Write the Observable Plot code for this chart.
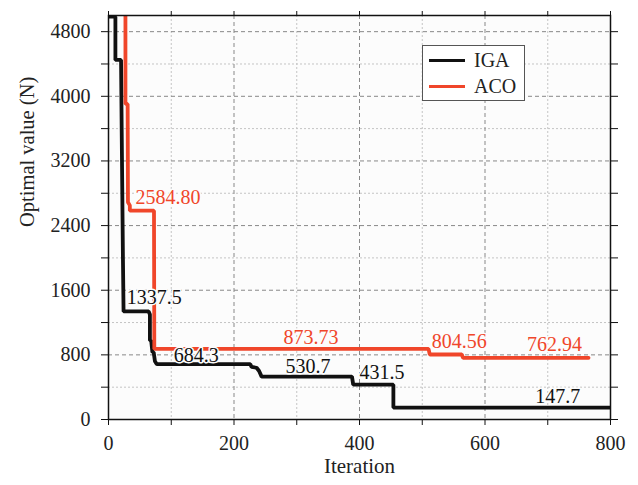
<!DOCTYPE html>
<html>
<head>
<meta charset="utf-8">
<script src="https://cdn.jsdelivr.net/npm/d3@7"></script>
<script src="https://cdn.jsdelivr.net/npm/@observablehq/plot@0.6"></script>
<style>
  html, body { margin: 0; padding: 0; background: #fff; }
  #wrap { position: relative; width: 638px; height: 485px; font-family: "Liberation Serif", serif; }
  #legend { position: absolute; left: 422px; top: 45px; width: 103px; height: 56px; border: 1px solid #555; background: #fff; box-sizing: border-box; }
  .item { position: absolute; left: 6px; display: flex; align-items: center; font-size: 20px; color: #222; }
  .sw { width: 36px; height: 0; border-top: 3px solid; margin-right: 9px; }
  svg text { font-family: "Liberation Serif", serif; font-variant-numeric: normal; }
</style>
</head>
<body>
<div id="wrap">
  <div id="chart"></div>
  <div id="legend">
    <div class="item" style="top:3px"><span class="sw" style="border-color:#111"></span>IGA</div>
    <div class="item" style="top:29px"><span class="sw" style="border-color:#f0462a"></span>ACO</div>
  </div>
</div>
<script>
// IGA (black) step curve vertices
const igaIter  = [0, 11, 11, 20, 21, 22, 23, 24, 64, 66, 66, 68, 70, 72, 74, 77, 226, 228, 236, 240, 244, 388, 390, 454, 454, 800];
const igaValue = [4985, 4985, 4450, 4450, 3600, 2800, 2000, 1337.5, 1337.5, 1300, 977, 977, 833, 833, 720, 684.3, 684.3, 650, 640, 600, 530.7, 530.7, 431.5, 431.5, 147.7, 147.7];
// ACO (red) step curve vertices
const acoIter  = [27, 27, 30.5, 31, 34, 34, 72.5, 73, 510, 512, 563, 565, 765];
const acoValue = [6000, 3906, 3906, 2688, 2650, 2584.8, 2584.8, 873.73, 873.73, 804.56, 804.56, 762.94, 762.94];

// annotations
const labelText  = ["2584.80", "1337.5", "684.3", "873.73", "530.7", "431.5", "804.56", "762.94", "147.7"];
const labelIter  = [43, 29, 104, 279, 282, 400, 515, 667, 680];
const labelValue = [2746, 1510, 792, 1008, 656, 575, 967, 922, 285];
const labelSeries = ["ACO", "IGA", "IGA", "ACO", "IGA", "IGA", "ACO", "ACO", "IGA"];

const yMajor = [0, 800, 1600, 2400, 3200, 4000, 4800];
const yMinor = [400, 1200, 2000, 2800, 3600, 4400];
const xMajor = [0, 200, 400, 600, 800];
const xMinor = [100, 300, 500, 700];

const colors = {IGA: "#111111", ACO: "#f0462a"};
const iga = igaIter.map((x, i) => ({x, y: igaValue[i]}));
const aco = acoIter.map((x, i) => ({x, y: acoValue[i]}));
const labels = labelText.map((t, i) => ({t, x: labelIter[i], y: labelValue[i], s: labelSeries[i]}));
const fmt = d3.format("d");
const ff = "Liberation Serif, serif";

const chart = Plot.plot({
  width: 638,
  height: 485,
  marginLeft: 108,
  marginRight: 28,
  marginTop: 15,
  marginBottom: 66,
  style: {fontFamily: ff, fontSize: "20px", color: "#222", background: "transparent"},
  x: {domain: [0, 800]},
  y: {domain: [0, 5000]},
  marks: [
    Plot.frame({fill: "#fcfcfc", stroke: null}),
    Plot.ruleY(yMinor, {stroke: "#c4c4c4", strokeDasharray: "2,2", strokeWidth: 1}),
    Plot.ruleX(xMinor, {stroke: "#c4c4c4", strokeDasharray: "2,2", strokeWidth: 1}),
    Plot.ruleY(yMajor.filter(d => d > 0), {stroke: "#888", strokeDasharray: "4,3", strokeWidth: 1}),
    Plot.ruleX(xMajor.filter(d => d > 0 && d < 800), {stroke: "#888", strokeDasharray: "4,3", strokeWidth: 1}),
    Plot.line(iga, {x: "x", y: "y", stroke: colors.IGA, strokeWidth: 3.8, clip: true, strokeLinejoin: "miter"}),
    Plot.line(aco, {x: "x", y: "y", stroke: colors.ACO, strokeWidth: 3.8, clip: true, strokeLinejoin: "miter"}),
    Plot.text(labels, {x: "x", y: "y", text: "t", fill: d => colors[d.s], textAnchor: "start", lineAnchor: "middle", stroke: "#fcfcfc", strokeWidth: 3, fontSize: 20, fontFamily: ff}),
    Plot.frame({stroke: "#111", strokeWidth: 1.5}),
    Plot.axisY({ticks: yMajor, tickSize: 7, tickPadding: 11, tickFormat: fmt, label: null, stroke: "#111", fontFamily: ff, fontVariant: "normal"}),
    Plot.axisY({ticks: yMinor, tickSize: 7, tickFormat: () => "", label: null, stroke: "#111"}),
    Plot.axisY({anchor: "right", ticks: yMajor.concat(yMinor), tickSize: 7, tickFormat: () => "", label: null, stroke: "#111"}),
    Plot.axisX({ticks: xMajor, tickSize: 6, tickPadding: 10, tickFormat: fmt, label: null, stroke: "#111", fontFamily: ff, fontVariant: "normal"}),
    Plot.axisX({ticks: xMinor, tickSize: 6, tickFormat: () => "", label: null, stroke: "#111"}),
    Plot.axisX({anchor: "top", ticks: xMajor.concat(xMinor), tickSize: 5, tickFormat: () => "", label: null, stroke: "#111"}),
    Plot.text(["Iteration"], {frameAnchor: "bottom", dy: 53, fontSize: 21, fill: "#222", fontFamily: ff}),
    Plot.text(["Optimal value (N)"], {frameAnchor: "left", rotate: -90, dx: -81, dy: 9.5, fontSize: 20.5, fill: "#222", fontFamily: ff})
  ]
});
document.getElementById("chart").appendChild(chart);
</script>
</body>
</html>
